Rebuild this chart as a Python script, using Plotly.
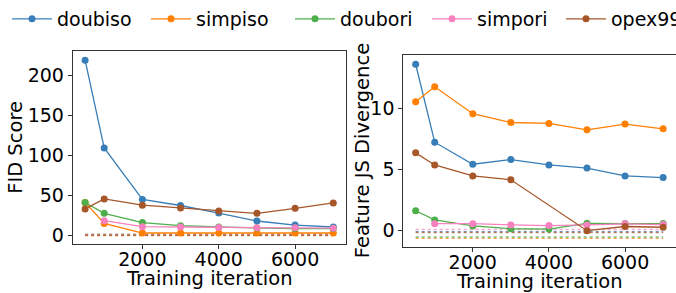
import plotly.graph_objects as go

iters = [500, 1000, 2000, 3000, 4000, 5000, 6000, 7000]
iters_pink = [1000, 2000, 3000, 4000, 5000, 6000, 7000]
iters_brown_js = [500, 1000, 2000, 3000, 5000, 6000, 7000]

names = ["doubiso", "simpiso", "doubori", "simpori", "opex99"]
colors = ["#377eb8", "#ff7f00", "#4daf4a", "#f781bf", "#a65628"]

# FID score
fid_doubiso = [219, 109.6, 45.3, 37.8, 28.4, 18.5, 13.4, 11.0]
fid_simpiso = [41.7, 15.4, 3.5, 3.5, 3.5, 3.5, 3.5, 3.5]
fid_doubori = [41.5, 28.0, 16.5, 12.6, 11.0, 9.8, 9.0, 9.0]
fid_simpori = [18.9, 11.4, 11.0, 10.5, 10.0, 10.0, 9.5]
fid_opex99 = [33.5, 46.0, 38.2, 34.7, 31.1, 28.0, 34.3, 41.0]
fid_base = [1.0, 0.5, 2.0, 1.5, 0.8]

# Feature JS divergence
js_doubiso = [13.6, 7.23, 5.43, 5.81, 5.37, 5.12, 4.47, 4.34]
js_simpiso = [10.54, 11.76, 9.56, 8.84, 8.76, 8.24, 8.71, 8.32]
js_doubori = [1.63, 0.88, 0.39, 0.16, 0.13, 0.60, 0.58, 0.58]
js_simpori = [0.57, 0.57, 0.47, 0.42, 0.47, 0.56, 0.50]
js_opex99 = [6.36, 5.37, 4.47, 4.16, 0.0, 0.34, 0.28]
js_base = [-0.08, -0.62, -0.52, 0.1, -0.15]

fid_x = [iters, iters, iters, iters_pink, iters]
fid_y = [fid_doubiso, fid_simpiso, fid_doubori, fid_simpori, fid_opex99]
js_x = [iters, iters, iters, iters_pink, iters_brown_js]
js_y = [js_doubiso, js_simpiso, js_doubori, js_simpori, js_opex99]

legend_widths = [84, 89, 82, 79, 60]

x_title = "Training iteration"
y_title_left = "FID Score"
y_title_right = "Feature JS Divergence"

FONT = "DejaVu Sans"
fig = go.Figure()

# dotted baselines
for i, (nm, c) in enumerate(zip(names, colors)):
    fig.add_trace(go.Scatter(x=[iters[0], iters[-1]], y=[fid_base[i]] * 2, mode="lines",
                             line=dict(color=c, width=1.5, dash="dot"), opacity=0.7,
                             showlegend=False, xaxis="x", yaxis="y", hoverinfo="skip"))
    fig.add_trace(go.Scatter(x=[iters[0], iters[-1]], y=[js_base[i]] * 2, mode="lines",
                             line=dict(color=c, width=1.5, dash="dot"), opacity=0.7,
                             showlegend=False, xaxis="x2", yaxis="y2", hoverinfo="skip"))

for i, (nm, c) in enumerate(zip(names, colors)):
    fig.add_trace(go.Scatter(x=fid_x[i], y=fid_y[i], mode="lines+markers", name=nm,
                             line=dict(color=c, width=1.3), marker=dict(color=c, size=7),
                             legendgroup=nm, legendwidth=legend_widths[i],
                             xaxis="x", yaxis="y"))
    fig.add_trace(go.Scatter(x=js_x[i], y=js_y[i], mode="lines+markers", name=nm,
                             line=dict(color=c, width=1.3), marker=dict(color=c, size=7),
                             legendgroup=nm, showlegend=False,
                             xaxis="x2", yaxis="y2"))

W, H = 676, 293
axis_common = dict(showgrid=False, zeroline=False, showline=True, mirror=True,
                   linecolor="#333", linewidth=1, ticks="outside", ticklen=4,
                   tickcolor="#333", automargin=False,
                   tickfont=dict(family=FONT, size=19, color="black"))

title_font = dict(family=FONT, size=19.5, color="black")
annotations = [
    dict(text=x_title, x=209.2 / W, y=1 - 277.5 / H, xref="paper", yref="paper",
         xanchor="center", yanchor="middle", showarrow=False, font=title_font),
    dict(text=x_title, x=539.5 / W, y=1 - 281 / H, xref="paper", yref="paper",
         xanchor="center", yanchor="middle", showarrow=False, font=title_font),
    dict(text=y_title_left, x=16 / W, y=1 - 140 / H, xref="paper", yref="paper",
         xanchor="center", yanchor="middle", showarrow=False, textangle=-90, font=title_font),
    dict(text=y_title_right, x=362.5 / W, y=1 - 143 / H, xref="paper", yref="paper",
         xanchor="center", yanchor="middle", showarrow=False, textangle=-90, font=title_font),
]

fig.update_layout(
    width=W, height=H, margin=dict(l=0, r=0, t=0, b=0),
    paper_bgcolor="white", plot_bgcolor="white",
    font=dict(family=FONT, size=19, color="black"),
    showlegend=True,
    legend=dict(orientation="h", x=7 / W, xanchor="left", y=1.054, yanchor="top",
                font=dict(family=FONT, size=19), itemwidth=40,
                bgcolor="rgba(0,0,0,0)", borderwidth=0, tracegroupgap=0),
    xaxis=dict(domain=[72.7 / W, 345.7 / W], range=[175, 7325],
               tickvals=[2000, 4000, 6000], anchor="y", ticklabelstandoff=-6,
               **axis_common),
    yaxis=dict(domain=[1 - 241.7 / H, 1 - 38.3 / H], range=[-10.6, 230],
               tickvals=[0, 50, 100, 150, 200], anchor="x",
               **axis_common),
    xaxis2=dict(domain=[403.3 / W, 675.5 / W], range=[175, 7325],
                tickvals=[2000, 4000, 6000], anchor="y2", ticklabelstandoff=-6,
                **axis_common),
    yaxis2=dict(domain=[1 - 245 / H, 1 - 41.7 / H], range=[-1.37, 14.39],
                tickvals=[0, 5, 10], anchor="x2",
                **axis_common),
    annotations=annotations,
)

fig.write_html("out.html", config={"displayModeBar": False},
               post_script="document.body.style.margin='0';document.body.style.overflow='hidden';")
